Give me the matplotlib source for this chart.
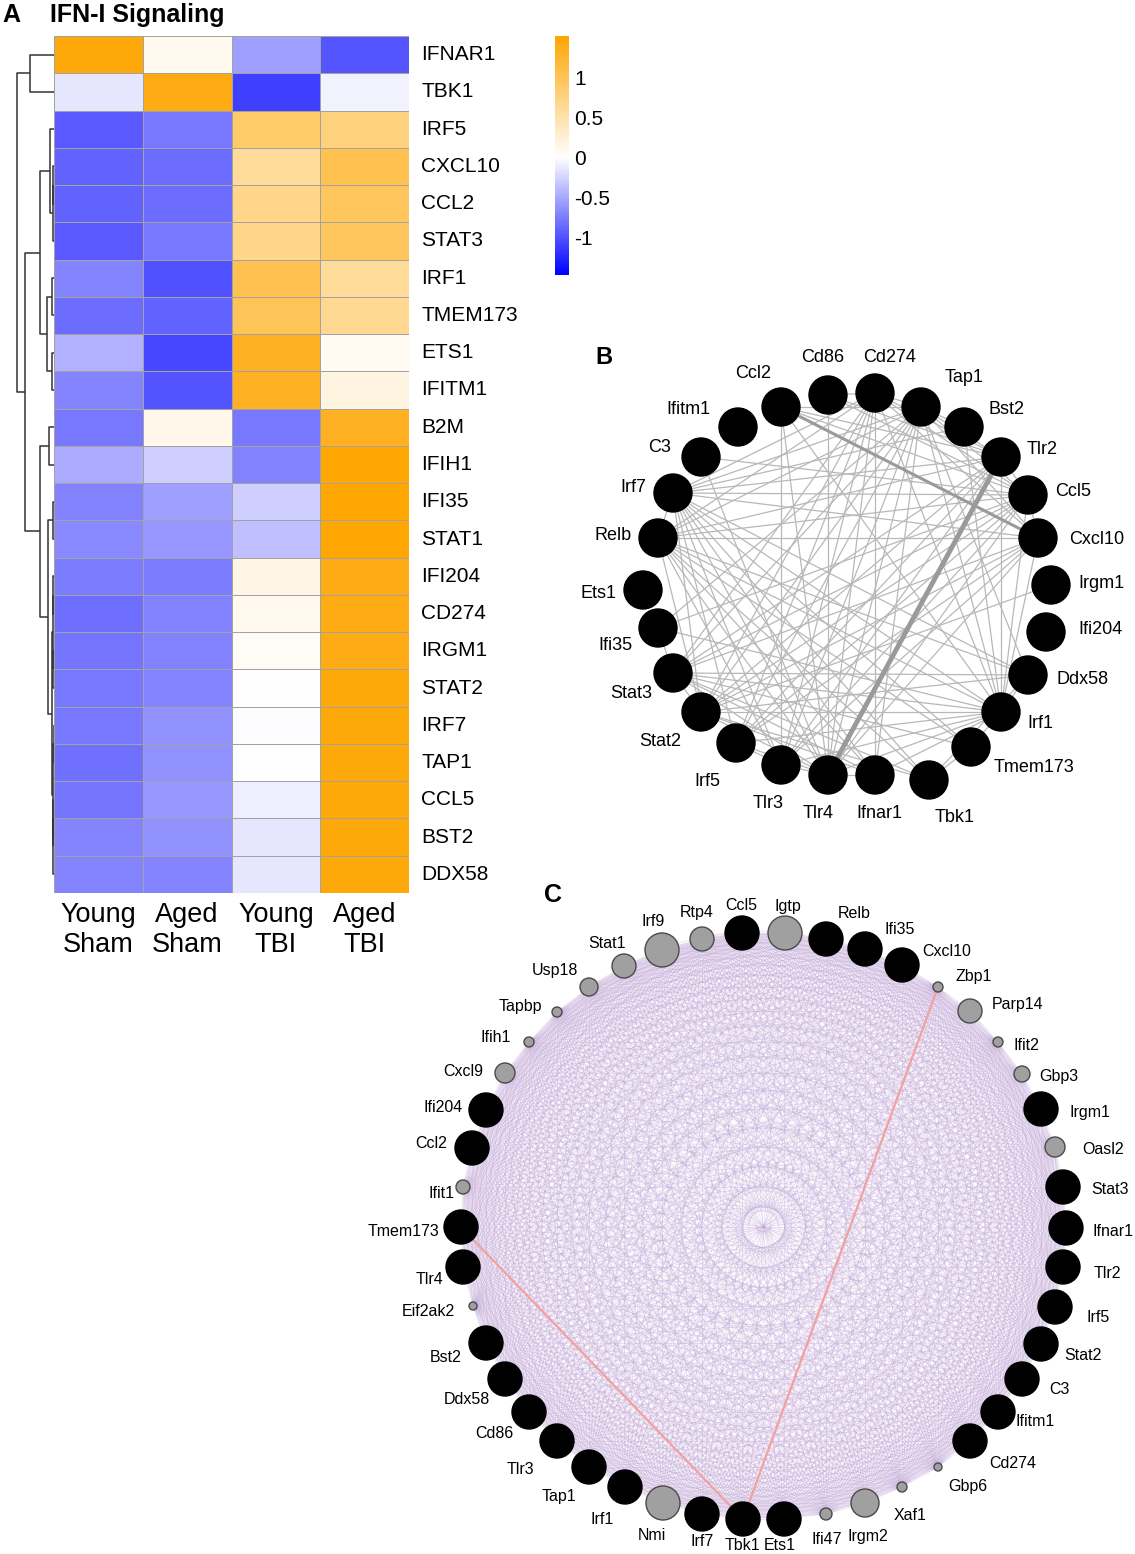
import itertools
import numpy as np
import matplotlib
matplotlib.use('Agg')
import matplotlib.pyplot as plt
from matplotlib.colors import LinearSegmentedColormap, Normalize
from matplotlib.patches import Circle
from matplotlib.collections import LineCollection

plt.rcParams['font.family'] = ['Liberation Sans', 'DejaVu Sans']
plt.rcParams['axes.unicode_minus'] = False

W_PX, H_PX = 1135, 1554

# ---------------- Panel A data ----------------
GENES = ['IFNAR1', 'TBK1', 'IRF5', 'CXCL10', 'CCL2', 'STAT3', 'IRF1', 'TMEM173',
         'ETS1', 'IFITM1', 'B2M', 'IFIH1', 'IFI35', 'STAT1', 'IFI204', 'CD274',
         'IRGM1', 'STAT2', 'IRF7', 'TAP1', 'CCL5', 'BST2', 'DDX58']
CONDITIONS = ['Young\nSham', 'Aged\nSham', 'Young\nTBI', 'Aged\nTBI']
YOUNG_SHAM = [1.45, -0.15, -0.95, -0.90, -0.90, -0.95, -0.70, -0.85, -0.45, -0.70, -0.78, -0.48,
              -0.72, -0.68, -0.75, -0.83, -0.80, -0.78, -0.78, -0.82, -0.80, -0.70, -0.70]
AGED_SHAM = [0.10, 1.40, -0.78, -0.85, -0.85, -0.78, -1.00, -0.90, -1.05, -0.98, 0.12, -0.27,
             -0.55, -0.60, -0.75, -0.72, -0.72, -0.70, -0.62, -0.62, -0.60, -0.62, -0.70]
YOUNG_TBI = [-0.55, -1.10, 0.90, 0.60, 0.70, 0.70, 1.05, 1.00, 1.30, 1.30, -0.78, -0.72,
             -0.27, -0.37, 0.15, 0.10, 0.06, 0.00, -0.02, 0.00, -0.10, -0.15, -0.15]
AGED_TBI = [-0.97, -0.07, 0.78, 1.05, 0.95, 0.95, 0.60, 0.65, 0.08, 0.18, 1.30, 1.50,
            1.50, 1.50, 1.40, 1.40, 1.40, 1.45, 1.45, 1.45, 1.45, 1.45, 1.45]
# row dendrogram merges: (child, child, height); leaves are row indices 0..22
DENDRO_MERGES = [
    (3, 4, 0.6), (23, 5, 1.2), (2, 24, 4.0), (6, 7, 2.0), (8, 9, 2.0), (26, 27, 7.0),
    (25, 28, 14.0), (0, 1, 24.0), (10, 11, 5.0), (12, 13, 1.5), (14, 15, 0.8),
    (16, 17, 0.8), (33, 34, 1.5), (18, 19, 0.5), (20, 21, 0.6), (37, 22, 0.9),
    (36, 38, 1.2), (35, 39, 2.5), (32, 40, 6.0), (31, 41, 14.0), (29, 42, 29.0),
    (30, 43, 37.0),
]
CBAR_TICKS = [-1, -0.5, 0, 0.5, 1]
CBAR_LABELS = ['-1', '-0.5', '0', '0.5', '1']

# ---------------- Panel B data ----------------
B_NAMES = ['Ccl2', 'Cd86', 'Cd274', 'Tap1', 'Bst2', 'Tlr2', 'Ccl5', 'Cxcl10', 'Irgm1',
           'Ifi204', 'Ddx58', 'Irf1', 'Tmem173', 'Tbk1', 'Ifnar1', 'Tlr4', 'Tlr3', 'Irf5',
           'Stat2', 'Stat3', 'Ifi35', 'Ets1', 'Relb', 'Irf7', 'C3', 'Ifitm1']
B_X = [781, 828, 875, 921, 964, 1001, 1028, 1038, 1051, 1046, 1028, 1001, 971, 929,
       875, 828, 781, 736, 701, 673, 658, 643, 658, 673, 701, 738]
B_Y = [407, 395, 393, 407, 427, 457, 495, 538, 585, 632, 675, 712, 747, 780,
       775, 775, 765, 743, 712, 673, 628, 590, 538, 493, 457, 427]
B_LX = [753, 823, 890, 964, 1007, 1042, 1073, 1097, 1101, 1100, 1083, 1040, 1034, 955,
        879, 818, 768, 707, 660, 631, 615, 599, 613, 633, 660, 688]
B_LY = [373, 357, 358, 378, 410, 449, 491, 539, 583, 630, 679, 723, 767, 817,
        813, 813, 803, 781, 742, 693, 645, 593, 536, 487, 448, 410]
B_EDGES = [
    ('Irf7', t) for t in ['Cd274', 'Tap1', 'Bst2', 'Tlr2', 'Ccl5', 'Cxcl10', 'Ddx58', 'Irf1',
                          'Tmem173', 'Tbk1', 'Ifnar1', 'Tlr4', 'Tlr3', 'Irf5', 'Stat2', 'Relb']
] + [
    ('Relb', t) for t in ['Cd274', 'Tap1', 'Tlr2', 'Ccl5', 'Cxcl10', 'Ddx58', 'Irf1',
                          'Tmem173', 'Tbk1', 'Ifnar1', 'Tlr4', 'Tlr3', 'Stat2']
] + [
    ('Tap1', t) for t in ['Stat3', 'Stat2', 'Irf5', 'Tlr3', 'Tlr4', 'Ifnar1', 'Irf1', 'Ddx58',
                          'Ccl5', 'Cxcl10', 'Tlr2', 'Cd274', 'Bst2', 'Ifi35', 'Ccl2']
] + [
    ('Cd274', t) for t in ['Stat3', 'Stat2', 'Tlr4', 'Ifnar1', 'Irf1', 'Ccl5', 'Tlr2',
                           'Cxcl10', 'Tlr3', 'Irf5', 'Cd86']
] + [
    ('Ccl2', t) for t in ['Tlr2', 'Ccl5', 'Tlr3', 'Tlr4', 'Irf1']
] + [
    ('Cd86', t) for t in ['Tlr4', 'Ccl5', 'Tlr2']
] + [
    ('Tlr2', t) for t in ['Stat3', 'Irf5', 'Tlr3', 'Ccl5', 'Irf1', 'Stat2']
] + [
    ('Ccl5', t) for t in ['Stat3', 'Stat2', 'Irf1', 'Tlr4', 'Tlr3', 'Irf5', 'Ifi35', 'Cxcl10']
] + [
    ('Cxcl10', t) for t in ['Stat2', 'Stat3', 'Irf1', 'Tlr4', 'Tlr3', 'Irf5']
] + [
    ('Irgm1', 'Stat2'),
] + [
    ('Ddx58', t) for t in ['Stat3', 'Stat2', 'Irf1', 'Tbk1']
] + [
    ('Irf1', t) for t in ['Ifi35', 'Stat3', 'Stat2', 'Irf5', 'Tlr3', 'Tlr4', 'Ifnar1',
                          'Tmem173', 'Bst2']
] + [
    ('Tmem173', t) for t in ['Tbk1', 'Stat3']
] + [
    ('Tbk1', t) for t in ['Stat3', 'Stat2']
] + [
    ('Ifnar1', t) for t in ['Stat2', 'Stat3', 'Tlr4']
] + [
    ('Tlr4', t) for t in ['Tlr3', 'Irf5', 'Stat3', 'Stat2']
] + [
    ('Stat2', 'Stat3'), ('Stat3', 'Ifi35'), ('Tlr3', 'Irf5'), ('C3', 'Tlr4'), ('C3', 'Ccl5'),
]
B_STRONG = [('Tlr2', 'Tlr4', 3.5), ('Ccl2', 'Cxcl10', 2.2)]

# ---------------- Panel C data ----------------
C_NAMES = ['Ccl5', 'Igtp', 'Relb', 'Ifi35', 'Cxcl10', 'Zbp1', 'Parp14', 'Ifit2', 'Gbp3',
           'Irgm1', 'Oasl2', 'Stat3', 'Ifnar1', 'Tlr2', 'Irf5', 'Stat2', 'C3', 'Ifitm1',
           'Cd274', 'Gbp6', 'Xaf1', 'Irgm2', 'Ifi47', 'Ets1', 'Tbk1', 'Irf7', 'Nmi', 'Irf1',
           'Tap1', 'Tlr3', 'Cd86', 'Ddx58', 'Bst2', 'Eif2ak2', 'Tlr4', 'Tmem173', 'Ifit1',
           'Ccl2', 'Ifi204', 'Cxcl9', 'Ifih1', 'Tapbp', 'Usp18', 'Stat1', 'Irf9', 'Rtp4']
C_X = [742, 785, 826, 865, 902, 938, 970, 998, 1022, 1041, 1055, 1063, 1066, 1063, 1055,
       1041, 1022, 998, 970, 938, 902, 865, 826, 784, 743, 702, 663, 625, 589, 557, 529,
       505, 486, 473, 463, 461, 463, 472, 486, 505, 529, 557, 589, 624, 662, 702]
C_Y = [933, 933, 939, 949, 965, 987, 1011, 1042, 1074, 1109, 1147, 1187, 1228, 1267, 1307,
       1344, 1379, 1412, 1441, 1467, 1487, 1503, 1514, 1519, 1519, 1514, 1503, 1487, 1467,
       1441, 1412, 1379, 1343, 1306, 1267, 1227, 1187, 1148, 1110, 1073, 1042, 1012, 987,
       966, 950, 939]
C_R = [17, 17, 17, 17, 17, 5, 12, 5, 8, 17, 10, 17, 17, 17, 17, 17, 17, 17, 17, 4, 5, 14,
       6, 17, 17, 17, 17, 17, 17, 17, 17, 17, 17, 4, 17, 17, 7, 17, 17, 10, 5, 5, 9, 12, 17, 12]
C_GRAY = ['Igtp', 'Zbp1', 'Parp14', 'Ifit2', 'Gbp3', 'Oasl2', 'Gbp6', 'Xaf1', 'Irgm2',
          'Ifi47', 'Nmi', 'Eif2ak2', 'Ifit1', 'Cxcl9', 'Ifih1', 'Tapbp', 'Usp18', 'Stat1',
          'Irf9', 'Rtp4']
C_LX = [741, 788, 854, 900, 947, 974, 1018, 1026, 1059, 1090, 1103, 1110, 1113, 1107, 1098,
        1083, 1059, 1035, 1013, 968, 910, 868, 827, 780, 742, 702, 652, 602, 559, 520, 494,
        467, 446, 428, 430, 403, 441, 431, 443, 463, 496, 520, 555, 607, 653, 697]
C_LY = [906, 906, 913, 930, 951, 977, 1004, 1046, 1077, 1113, 1149, 1189, 1232, 1273, 1317,
        1355, 1389, 1422, 1463, 1486, 1516, 1537, 1540, 1546, 1546, 1542, 1535, 1519, 1496,
        1470, 1434, 1400, 1358, 1311, 1280, 1232, 1194, 1143, 1108, 1072, 1037, 1006, 970,
        943, 922, 913]
C_HIGHLIGHT = [('Tmem173', 'Tbk1'), ('Zbp1', 'Tbk1')]
C_BENDS = [0.0, 0.12]   # parallel edges: one straight, one curved
C_ALPHAS = [0.4, 0.15]


def bent_edge(p, q, bend, n=24):
    p, q = np.asarray(p, float), np.asarray(q, float)
    d = q - p
    ctrl = (p + q) / 2 + bend * np.array([-d[1], d[0]])
    t = np.linspace(0, 1, n)[:, None]
    return (1 - t) ** 2 * p + 2 * (1 - t) * t * ctrl + t ** 2 * q


# ---------------- Figure ----------------
fig = plt.figure(figsize=(W_PX / 100, H_PX / 100), dpi=100)
fig.patch.set_facecolor('white')

# full-figure axes in pixel coordinates for networks, dendrogram and texts
ax = fig.add_axes([0, 0, 1, 1])
ax.set_xlim(0, W_PX)
ax.set_ylim(H_PX, 0)
ax.axis('off')

# ---- Panel A heatmap ----
HM_L, HM_R, HM_T, HM_B = 54, 409, 36, 893
n_rows = len(GENES)
row_h = (HM_B - HM_T) / n_rows

mat = np.column_stack([YOUNG_SHAM, AGED_SHAM, YOUNG_TBI, AGED_TBI])
VMIN, VMAX = -1.47, 1.52
cmap = LinearSegmentedColormap.from_list(
    'bwo', [(0, '#0000FF'), (-VMIN / (VMAX - VMIN), '#FFFFFF'), (1, '#FFA500')])
norm = Normalize(vmin=VMIN, vmax=VMAX)

ax_hm = fig.add_axes([HM_L / W_PX, 1 - HM_B / H_PX, (HM_R - HM_L) / W_PX, (HM_B - HM_T) / H_PX])
mesh = ax_hm.pcolormesh(mat, cmap=cmap, norm=norm, edgecolors='#a2a2a2', linewidth=0.7)
ax_hm.set_xlim(0, 4)
ax_hm.set_ylim(n_rows, 0)
ax_hm.axis('off')

for i, g in enumerate(GENES):
    ax.text(421, HM_T + row_h * (i + 0.5), g, ha='left', va='center', fontsize=15)
col_w = (HM_R - HM_L) / 4
for j, c in enumerate(CONDITIONS):
    ax.text(HM_L + col_w * (j + 0.5), 930, c, ha='center', va='center', fontsize=19.5,
            linespacing=1.2)

# dendrogram
pos = {i: HM_T + row_h * (i + 0.5) for i in range(n_rows)}
hgt = {i: 0.0 for i in range(n_rows)}
for k, (a, b, h) in enumerate(DENDRO_MERGES):
    node = n_rows + k
    xa, xb, xp = HM_L - hgt[a], HM_L - hgt[b], HM_L - h
    ax.plot([xa, xp, xp, xb], [pos[a], pos[a], pos[b], pos[b]], color='#333333', lw=1.1,
            solid_capstyle='butt')
    pos[node] = (pos[a] + pos[b]) / 2
    hgt[node] = h

# colorbar
cax = fig.add_axes([555 / W_PX, 1 - 275 / H_PX, 14 / W_PX, 239 / H_PX])
cb = fig.colorbar(mesh, cax=cax)
cb.outline.set_visible(False)
cb.set_ticks(CBAR_TICKS)
cb.set_ticklabels(CBAR_LABELS)
cax.tick_params(length=0, labelsize=15, pad=4)

ax.text(11, 15, 'A', fontsize=18, fontweight='bold', ha='center', va='center')
ax.text(50, 15, 'IFN-I Signaling', fontsize=18, fontweight='bold', ha='left', va='center')

# ---- Panel B network ----
b_idx = {n: i for i, n in enumerate(B_NAMES)}
for a, b in B_EDGES:
    ia, ib = b_idx[a], b_idx[b]
    ax.plot([B_X[ia], B_X[ib]], [B_Y[ia], B_Y[ib]], color='#b8b8b8', lw=0.9, zorder=1)
for a, b, w in B_STRONG:
    ia, ib = b_idx[a], b_idx[b]
    ax.plot([B_X[ia], B_X[ib]], [B_Y[ia], B_Y[ib]], color='#9a9a9a', lw=w, zorder=1.5)
for i, n in enumerate(B_NAMES):
    ax.add_patch(Circle((B_X[i], B_Y[i]), 19, facecolor='black', edgecolor='black', zorder=3))
    ax.text(B_LX[i], B_LY[i], n, ha='center', va='center', fontsize=13, zorder=4)
ax.text(604, 358, 'B', fontsize=17, fontweight='bold', ha='center', va='center')

# ---- Panel C network ----
c_idx = {n: i for i, n in enumerate(C_NAMES)}
for bend, alpha in zip(C_BENDS, C_ALPHAS):
    segs = []
    for a, b in itertools.combinations(C_NAMES, 2):
        ia, ib = c_idx[a], c_idx[b]
        segs.append(bent_edge((C_X[ia], C_Y[ia]), (C_X[ib], C_Y[ib]), bend))
    ax.add_collection(LineCollection(segs, colors='#c2a6d8', linewidths=0.5, alpha=alpha,
                                     zorder=1))
for a, b in C_HIGHLIGHT:
    ia, ib = c_idx[a], c_idx[b]
    ax.plot([C_X[ia], C_X[ib]], [C_Y[ia], C_Y[ib]], color='#f2a0a0', lw=1.6, zorder=1.5)
for i, n in enumerate(C_NAMES):
    gray = n in C_GRAY
    ax.add_patch(Circle((C_X[i], C_Y[i]), C_R[i], facecolor='#a0a0a0' if gray else 'black',
                        edgecolor='#4a4a4a' if gray else 'black', lw=1.0, zorder=3))
    ax.text(C_LX[i], C_LY[i], n, ha='center', va='center', fontsize=11.5, zorder=4)
ax.text(553, 895, 'C', fontsize=18, fontweight='bold', ha='center', va='center')

fig.savefig('out.png', dpi=100, facecolor='white')
